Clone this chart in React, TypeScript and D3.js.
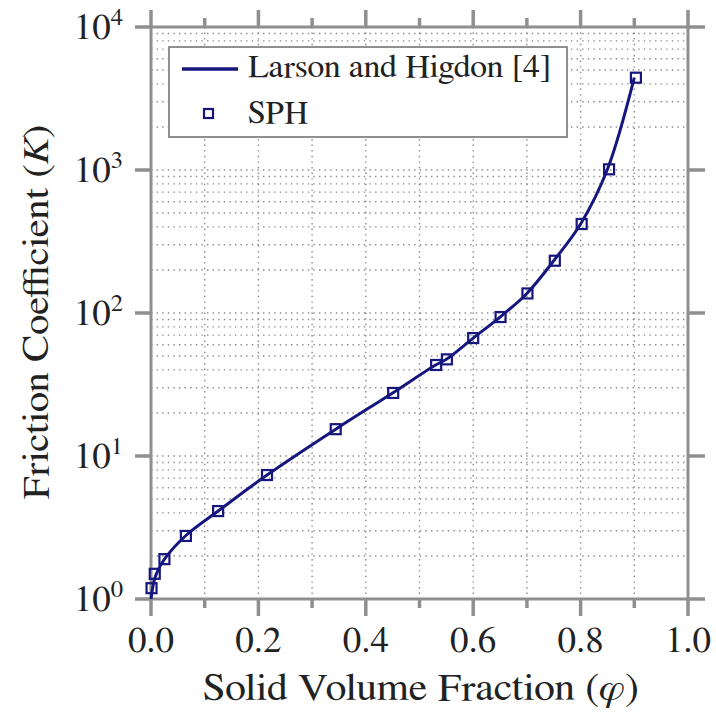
import React from 'react';
import { scaleLinear, scaleLog, line, curveCatmullRom, range } from 'd3';

// Larson and Higdon reference curve (phi, K)
const curvePhi = [0, 0.005, 0.01, 0.025, 0.065, 0.125, 0.216, 0.344, 0.45, 0.53, 0.55, 0.6, 0.65, 0.7, 0.75, 0.8, 0.85, 0.9];
const curveK = [1.0, 1.3, 1.5, 1.9, 2.78, 4.12, 7.36, 15.4, 27.6, 43.3, 47.4, 66.8, 93.7, 137, 232, 419, 1011, 4420];

// SPH results
const sphPhi = [0.001, 0.007, 0.025, 0.065, 0.125, 0.216, 0.344, 0.451, 0.531, 0.551, 0.6, 0.651, 0.701, 0.752, 0.802, 0.853, 0.903];
const sphK = [1.19, 1.5, 1.9, 2.76, 4.12, 7.36, 15.4, 27.6, 43.3, 47.4, 66.8, 93.7, 137, 232, 419, 1011, 4420];

const xTicks = [0, 0.2, 0.4, 0.6, 0.8, 1.0];
const xMinorTicks = [0.1, 0.3, 0.5, 0.7, 0.9];
const yDecades = [0, 1, 2, 3, 4];

const legendLabels = ['Larson and Higdon [4]', 'SPH'];

// Liberation Serif kept falling back to a sans face, FreeSerif first
const FONT = "FreeSerif, Tinos, 'Liberation Serif', serif";
const serif = { fontFamily: FONT };
const BASE = 30;
const NAVY = '#16167f';
const GREY = '#8f8f8f';
const TEXT = '#222';

export default function App() {
  const margin = { top: 27, left: 151 };
  const width = 537;
  const height = 572;

  const x = scaleLinear().domain([0, 1]).range([0, width]);
  const y = scaleLog().domain([1, 1e4]).range([height, 0]);

  const curve = line<number>()
    .x((d, i) => x(curvePhi[i]))
    .y((d) => y(d))
    .curve(curveCatmullRom.alpha(0.5));

  const gridY: number[] = [];
  yDecades.slice(0, -1).forEach((e) => {
    range(1, 10).forEach((m) => gridY.push(m * Math.pow(10, e)));
  });
  gridY.push(1e4);

  const gridX = range(1, 10).map((i) => i / 10);

  const tickScale = 37 / BASE;

  return (
    <svg
      width={716}
      height={715}
      style={{ position: 'absolute', left: 0, top: 0, background: '#fff' }}
    >
      <g transform={`translate(${margin.left}, ${margin.top})`}>
        {/* dotted grid */}
        <g stroke="#8a8a8a" strokeWidth={1.4} strokeDasharray="1.4 4.2">
          {gridX.map((v) => (
            <line key={`gx-${v}`} x1={x(v)} x2={x(v)} y1={0} y2={height} />
          ))}
          {gridY.map((v) => (
            <line key={`gy-${v}`} x1={0} x2={width} y1={y(v)} y2={y(v)} />
          ))}
        </g>

        {/* frame + ticks */}
        <g stroke={GREY} strokeWidth={3} fill="none">
          <rect x={0} y={0} width={width} height={height} />
          {xTicks.map((v) => (
            <g key={`xt-${v}`}>
              <line x1={x(v)} x2={x(v)} y1={height} y2={height + 17} strokeWidth={3.5} />
              <line x1={x(v)} x2={x(v)} y1={0} y2={-17} strokeWidth={3.5} />
            </g>
          ))}
          {xMinorTicks.map((v) => (
            <g key={`xm-${v}`}>
              <line x1={x(v)} x2={x(v)} y1={height} y2={height + 9} strokeWidth={3.5} />
              <line x1={x(v)} x2={x(v)} y1={0} y2={-9} strokeWidth={3.5} />
            </g>
          ))}
          {yDecades.map((e) => (
            <g key={`yt-${e}`}>
              <line x1={-16} x2={0} y1={y(Math.pow(10, e))} y2={y(Math.pow(10, e))} strokeWidth={3.5} />
              <line x1={width} x2={width + 17} y1={y(Math.pow(10, e))} y2={y(Math.pow(10, e))} strokeWidth={3.5} />
            </g>
          ))}
        </g>

        {/* tick labels */}
        <g fill={TEXT}>
          {xTicks.map((v) => (
            <text
              key={`xl-${v}`}
              transform={`translate(${x(v)}, ${height + 53}) scale(${tickScale})`}
              fontSize={BASE}
              fontFamily={FONT}
              textAnchor="middle"
              style={serif}
            >
              {v.toFixed(1)}
            </text>
          ))}
          {yDecades.map((e) => (
            <text
              key={`yl-${e}`}
              transform={`translate(-28, ${y(Math.pow(10, e)) + 12}) scale(${tickScale})`}
              fontSize={BASE}
              fontFamily={FONT}
              textAnchor="end"
              style={serif}
            >
              10
              <tspan fontSize={20} dy={-11}>
                {e}
              </tspan>
            </text>
          ))}
        </g>

        {/* legend */}
        <g transform="translate(18, 20)">
          <rect x={0} y={0} width={398} height={90} fill="#fff" stroke={GREY} strokeWidth={2} />
          <line x1={13} x2={69} y1={22} y2={22} stroke={NAVY} strokeWidth={3.5} />
          <rect x={35} y={62} width={9} height={9} fill="none" stroke={NAVY} strokeWidth={2.2} />
          <text transform="translate(79, 30) scale(1.13, 1.07)" fontSize={BASE} fontFamily={FONT} fill={TEXT} style={serif}>
            {legendLabels[0]}
          </text>
          <text transform="translate(79, 76) scale(1.1, 1.07)" fontSize={BASE} fontFamily={FONT} fill={TEXT} style={serif}>
            {legendLabels[1]}
          </text>
        </g>

        {/* curve */}
        <path d={curve(curveK) ?? ''} fill="none" stroke={NAVY} strokeWidth={3} />

        {/* SPH markers */}
        {sphK.map((k, i) => (
          <rect
            key={`sph-${i}`}
            x={x(sphPhi[i]) - 5}
            y={y(k) - 5}
            width={10}
            height={10}
            fill="none"
            stroke={NAVY}
            strokeWidth={2.2}
          />
        ))}
      </g>

      {/* axis titles */}
      <text
        transform="translate(421, 700) scale(1.39, 1.27)"
        style={serif}
        fontFamily={FONT}
        fontSize={BASE}
        fill={TEXT}
        textAnchor="middle"
      >
        Solid Volume Fraction (<tspan fontStyle="italic">φ</tspan>)
      </text>
      <text
        transform="translate(48, 312) rotate(-90) scale(1.36, 1.23)"
        style={serif}
        fontFamily={FONT}
        fontSize={BASE}
        fill={TEXT}
        textAnchor="middle"
      >
        Friction Coefficient (<tspan fontStyle="italic">K</tspan>)
      </text>
    </svg>
  );
}
